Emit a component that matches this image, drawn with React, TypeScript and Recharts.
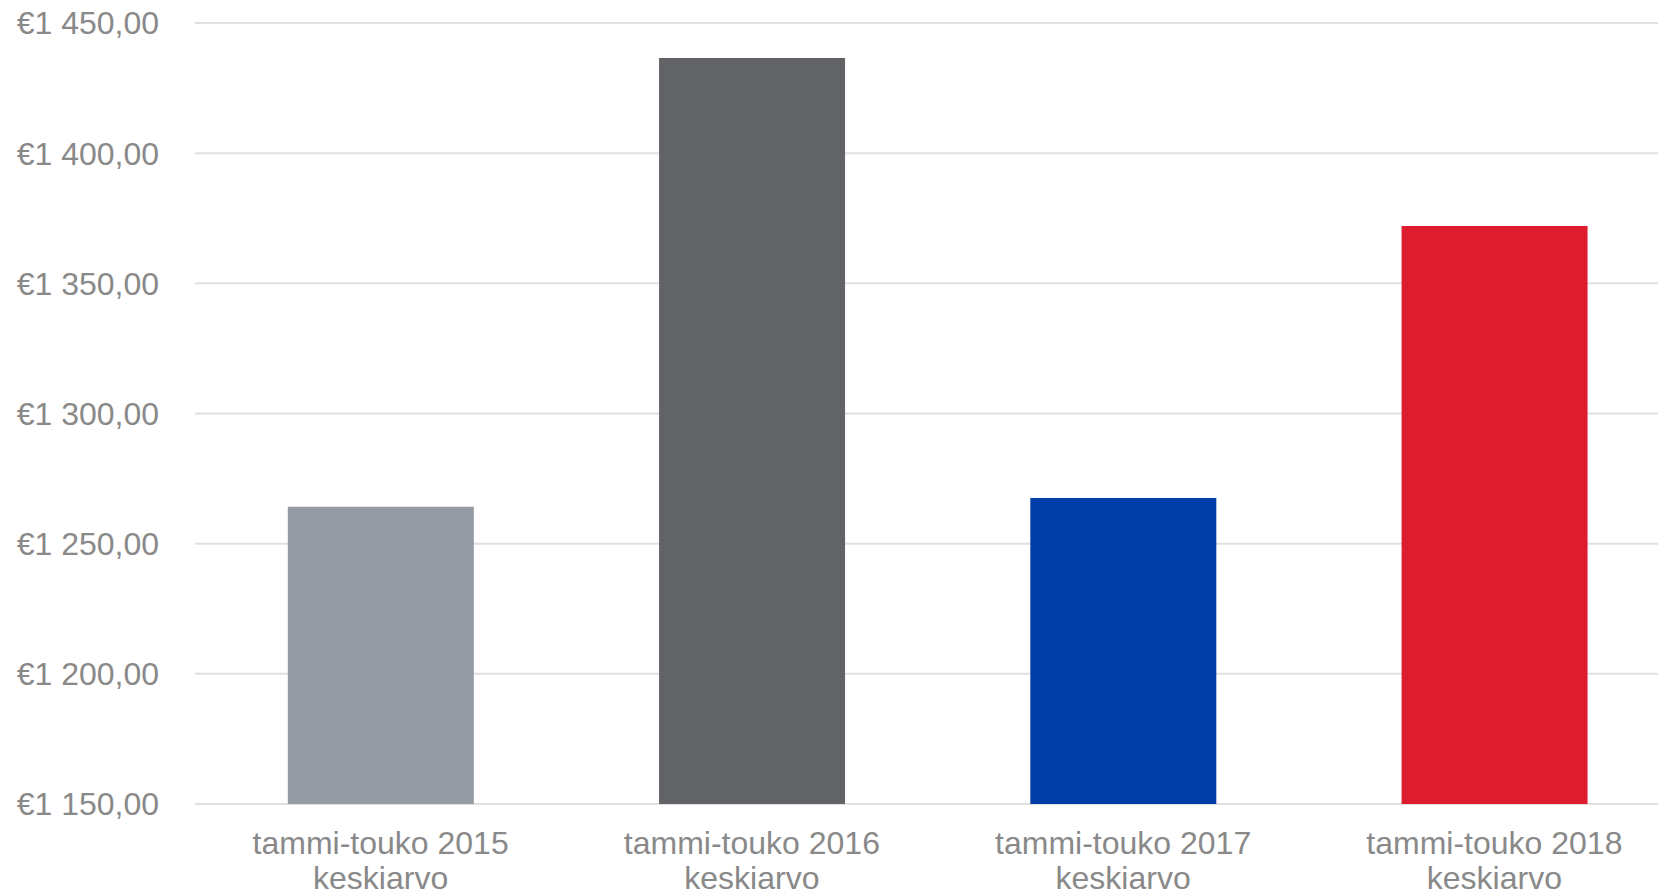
import { BarChart, Bar, XAxis, YAxis, CartesianGrid, Cell } from 'recharts'

const categories = ['tammi-touko 2015', 'tammi-touko 2016', 'tammi-touko 2017', 'tammi-touko 2018']
const subLabels = ['keskiarvo', 'keskiarvo', 'keskiarvo', 'keskiarvo']
const values = [1264.2, 1436.6, 1267.5, 1372.0]
const barColors = ['#949ba2', '#626367', '#003da6', '#dd1c30']
const yTicks = [1150, 1200, 1250, 1300, 1350, 1400, 1450]

const data = categories.map((name, i) => ({ name, sub: subLabels[i], value: values[i] }))

const font = '"Liberation Sans", Arial, sans-serif'
const textColor = '#898989'

const formatEuro = (v: number) => {
  const thousands = Math.floor(v / 1000)
  const rest = String(Math.round(v % 1000)).padStart(3, '0')
  return `€${thousands} ${rest},00`
}

const XTick = ({ x, y, payload, index }: any) => (
  <g>
    <text x={x} y={y + 50} textAnchor="middle" fill={textColor} fontSize={32} fontFamily={font}>
      {payload.value}
    </text>
    <text x={x} y={y + 85} textAnchor="middle" fill={textColor} fontSize={32} fontFamily={font}>
      {subLabels[index]}
    </text>
  </g>
)

export default function App() {
  return (
    <div style={{ position: 'absolute', left: 0, top: 0, width: 1658, height: 894, overflow: 'hidden', background: '#fff' }}>
      <BarChart
        width={1680}
        height={894}
        data={data}
        margin={{ top: 23, right: 0, left: 0, bottom: 0 }}
        barCategoryGap="25%"
      >
        <CartesianGrid horizontal vertical={false} stroke="#e0e0e0" strokeWidth={2} />
        <XAxis
          dataKey="name"
          height={90}
          axisLine={false}
          tickLine={false}
          tickSize={0}
          tickMargin={0}
          interval={0}
          tick={<XTick />}
        />
        <YAxis
          width={195}
          domain={[1150, 1450]}
          ticks={yTicks}
          allowDataOverflow
          axisLine={false}
          tickLine={false}
          tickSize={0}
          tickMargin={36}
          tickFormatter={formatEuro}
          tick={{ fill: textColor, fontSize: 32, fontFamily: font }}
        />
        <Bar dataKey="value" isAnimationActive={false}>
          {data.map((d, i) => (
            <Cell key={d.name} fill={barColors[i]} />
          ))}
        </Bar>
      </BarChart>
    </div>
  )
}
